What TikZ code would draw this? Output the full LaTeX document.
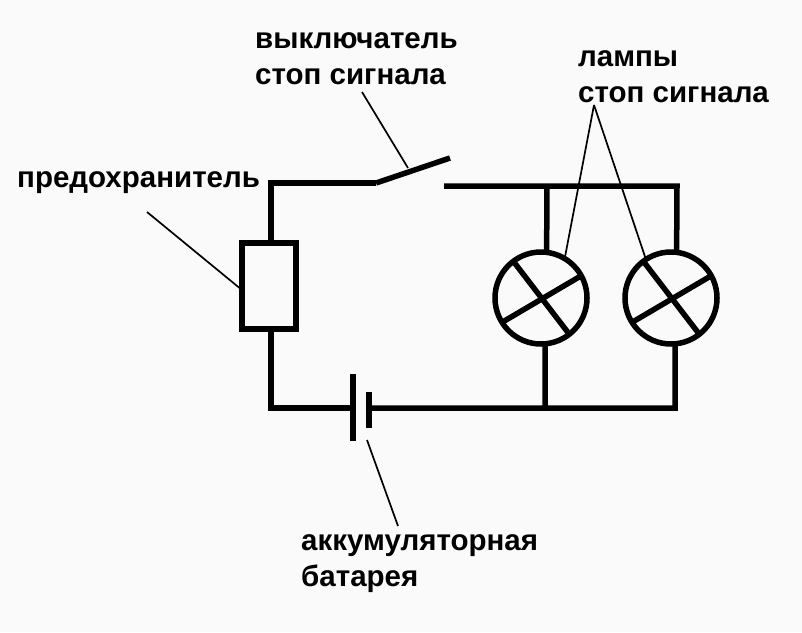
\documentclass[tikz,border=0pt]{standalone}
\usepackage{fontspec}
\setmainfont{Liberation Sans}
\begin{document}
\begin{tikzpicture}[x=1pt,y=-1pt]
      \useasboundingbox(0,0) rectangle (802,632);
      \tikzset{L/.style = {shape=circle, draw, line width=5.5pt, minimum size=92pt, inner sep=0pt, outer sep=0pt}}
      \tikzset{F/.style = {shape=rectangle, draw, line width=5.5pt, minimum width=54pt, minimum height=86pt, inner sep=0pt, outer sep=0pt}}
      \tikzset{T/.style = {anchor=base west, align=left, inner sep=0pt, text=black, font=\fontsize{29.5}{36}\selectfont\bfseries}}
      \tikzset{W/.style = {draw, line width=5.5pt}}
      \tikzset{P/.style = {draw, line width=1.7pt}}
      \fill[black!2] (0,0) rectangle (802,632);
      \node[T](tsw) at (255,84) {выключатель\\стоп сигнала};
      \node[T](tla) at (578,102) {лампы\\стоп сигнала};
      \node[T](tfu) at (17,187) {предохранитель};
      \node[T](tba) at (301,586) {аккумуляторная\\батарея};
      \node[F](fuse) at (269,286) {};
      \node[L](la) at (541,298) {};
      \node[L](lb) at (671,298) {};
      \coordinate (c0) at (271,183);
      \coordinate (c1) at (376,183);
      \coordinate (c2) at (450,158);
      \coordinate (c3) at (444,186);
      \coordinate (c4) at (677,186);
      \coordinate (c5) at (675,408);
      \coordinate (c6) at (271,408);
      \coordinate (j0) at (547,186);
      \coordinate (j1) at (545,408);
      \coordinate (b0) at (353,374);
      \coordinate (b1) at (353,441);
      \coordinate (b2) at (369,392);
      \coordinate (b3) at (369,428);
      \coordinate (p0) at (362,92);
      \coordinate (p1) at (408,168);
      \coordinate (p2) at (594,105);
      \coordinate (p3) at (147,212);
      \coordinate (p4) at (367,440);
      \coordinate (p5) at (398,526);
      \draw[W](fuse.north -| c0) -- (c0) -- (c1);
      \draw[W](c1) to (c2);
      \draw[W](c3) -- (c4) -- (lb.83);
      \draw[W](j0) to (la.83);
      \draw[W](la.-85) to (j1);
      \draw[W](lb.-85) -- (c5) -- (b2 |- c5);
      \draw[W](fuse.south -| c6) -- (c6) -- (b0 |- c6);
      \draw[W](b0) to (b1);
      \draw[W](b2) to (b3);
      \draw[W](la.127) to (la.-52);
      \draw[W](la.212) to (la.29);
      \draw[W](lb.127) to (lb.-52);
      \draw[W](lb.212) to (lb.29);
      \draw[P](p0) to (p1);
      \draw[P](p2) to (la.59);
      \draw[P](p2) to (lb.123);
      \draw[P](p3) to (fuse.west |- 0,290);
      \draw[P](p4) to (p5);
\end{tikzpicture}
\end{document}
